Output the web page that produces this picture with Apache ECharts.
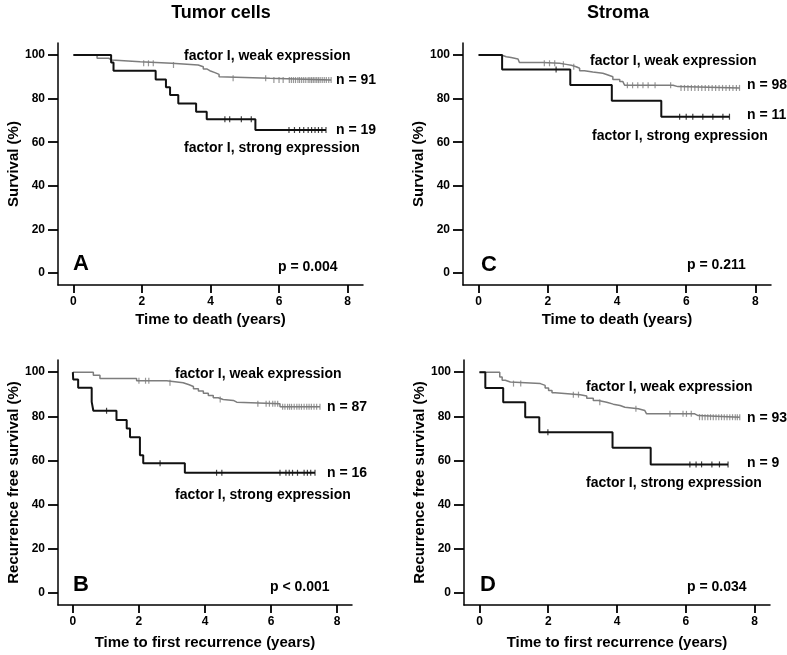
<!DOCTYPE html>
<html>
<head>
<meta charset="utf-8">
<script src="https://cdn.jsdelivr.net/npm/echarts@6/dist/echarts.min.js"></script>
<style>
html,body{margin:0;padding:0;background:#fff;}
#chart{width:787px;height:655px;}
</style>
</head>
<body>
<div id="chart"></div>
<script>
// ---------- DATA ----------
const xTickStep = 2, xTickMax = 8;
const yTickStep = 20, yTickMax = 100;

// Panel A: Tumor cells, time to death
const A_weak_t = [0, 0.69, 1.03, 1.12, 1.95, 2.87, 3.64, 3.79, 3.89, 3.98, 4.13, 4.25, 4.29, 5.73, 7.52];
const A_weak_s = [100, 98.5, 97.7, 96.9, 96.2, 95.4, 94.6, 93.6, 92.8, 91.9, 91.1, 90.0, 89.3, 88.5, 88.5];
const A_weak_c = [2.05, 2.19, 2.33, 2.92, 4.66, 5.61, 5.85, 6.0, 6.12, 6.3, 6.36, 6.42, 6.48, 6.55, 6.6, 6.66, 6.72, 6.78, 6.85, 6.9, 6.95, 7.0, 7.05, 7.1, 7.15, 7.2, 7.26, 7.32, 7.38, 7.45, 7.52];
const A_strong_t = [0, 1.10, 1.17, 2.40, 2.70, 2.82, 3.06, 3.58, 3.89, 5.31, 7.37];
const A_strong_s = [100, 96.6, 92.8, 88.8, 85.2, 81.7, 77.8, 74.0, 70.5, 65.6, 65.6];
const A_strong_c = [4.42, 4.56, 4.90, 5.19, 6.29, 6.45, 6.6, 6.72, 6.85, 6.95, 7.05, 7.15, 7.25, 7.37];

// Panel B: Tumor cells, time to first recurrence
const B_weak_t = [0, 0.62, 0.82, 1.93, 2.84, 3.34, 3.50, 3.65, 3.80, 3.95, 4.10, 4.25, 4.40, 4.55, 4.86, 4.96, 6.27, 7.48];
const B_weak_s = [100, 98.6, 97.1, 96.1, 95.2, 94.4, 93.5, 92.5, 91.4, 90.4, 89.4, 88.4, 87.6, 87.2, 86.4, 85.7, 84.3, 84.3];
const B_weak_c = [2.0, 2.2, 2.3, 2.94, 4.46, 5.6, 5.85, 5.95, 6.05, 6.12, 6.2, 6.35, 6.42, 6.5, 6.56, 6.62, 6.7, 6.78, 6.85, 6.92, 7.0, 7.08, 7.15, 7.22, 7.3, 7.38, 7.48];
const B_strong_t = [0, 0.01, 0.16, 0.57, 0.62, 1.32, 1.63, 1.73, 2.03, 2.13, 3.39, 7.33];
const B_strong_s = [100, 96.7, 92.9, 86.5, 82.5, 78.3, 74.5, 70.5, 62.4, 58.7, 54.4, 54.4];
const B_strong_c = [1.02, 2.64, 4.35, 4.51, 6.27, 6.45, 6.55, 6.65, 6.8, 7.0, 7.1, 7.2, 7.33];

// Panel C: Stroma, time to death
const C_weak_t = [0, 0.66, 0.80, 0.94, 1.14, 1.18, 1.86, 2.34, 2.53, 2.68, 2.82, 2.92, 3.06, 3.30, 3.59, 3.74, 3.88, 4.08, 4.17, 4.22, 5.62, 5.76, 7.54];
const C_weak_s = [100, 99.2, 98.8, 98.2, 97.4, 96.6, 96.2, 95.7, 95.3, 94.6, 93.9, 92.8, 92.2, 91.6, 90.8, 90.0, 88.8, 87.8, 87.0, 86.1, 85.5, 84.9, 84.9];
const C_weak_c = [1.9, 2.05, 2.2, 2.45, 2.75, 4.3, 4.45, 4.6, 4.75, 4.9, 5.1, 5.55, 5.85, 5.95, 6.05, 6.15, 6.25, 6.35, 6.45, 6.55, 6.65, 6.75, 6.85, 6.95, 7.05, 7.15, 7.25, 7.35, 7.45, 7.54];
const C_strong_t = [0, 0.68, 2.65, 3.85, 5.28, 7.25];
const C_strong_s = [100, 93.4, 86.2, 79.0, 71.7, 71.7];
const C_strong_c = [2.24, 5.81, 6.0, 6.19, 6.48, 6.77, 7.06, 7.25];

// Panel D: Stroma, time to first recurrence
const D_weak_t = [0, 0.59, 0.66, 0.75, 0.90, 1.77, 1.91, 2.01, 2.11, 2.20, 2.93, 3.12, 3.31, 3.46, 3.70, 3.89, 4.09, 4.23, 4.62, 4.81, 4.86, 6.26, 6.36, 7.57];
const D_weak_s = [100, 97.8, 96.3, 95.5, 94.8, 94.0, 92.8, 91.7, 90.7, 89.8, 89.2, 88.2, 87.2, 86.4, 85.5, 84.9, 84.1, 83.4, 82.6, 81.9, 81.1, 80.3, 79.6, 79.6];
const D_weak_c = [0.99, 1.2, 2.73, 2.88, 3.5, 4.55, 5.54, 5.92, 6.02, 6.16, 6.4, 6.48, 6.56, 6.64, 6.72, 6.8, 6.88, 6.96, 7.04, 7.12, 7.2, 7.28, 7.36, 7.44, 7.5, 7.57];
const D_strong_t = [0, 0.17, 0.69, 1.33, 1.74, 3.87, 4.98, 7.23];
const D_strong_s = [100, 92.8, 86.4, 79.6, 72.8, 65.8, 58.2, 58.2];
const D_strong_c = [1.99, 6.12, 6.30, 6.46, 6.76, 6.98, 7.23];

// ---------- BUILD ----------
const GRAY = '#7d7d7d', BLACK = '#111111';
const FONT = '"Liberation Sans", Arial, sans-serif';
const XMIN = -0.45, XMAX = 8.45, YMIN = -5.5, YMAX = 105.5;

function pairs(ts, ss) { return ts.map((t, i) => [t, ss[i]]); }
function survAt(ts, ss, t) { let v = ss[0]; for (let i = 0; i < ts.length; i++) { if (ts[i] <= t + 1e-9) v = ss[i]; } return v; }

// outer frames (axis lines + names + data): A, B, C, D
const outer = [
  { left: 58, top: 43, width: 305, height: 242 },
  { left: 58, top: 360, width: 294, height: 245 },
  { left: 463, top: 43, width: 308, height: 242 },
  { left: 464, top: 360, width: 306, height: 245 }
];

const xNames = ['Time to death (years)', 'Time to first recurrence (years)', 'Time to death (years)', 'Time to first recurrence (years)'];
const yNames = ['Survival (%)', 'Recurrence free survival (%)', 'Survival (%)', 'Recurrence free survival (%)'];
const xNameGaps = [27, 30, 27, 30];

const gridsOpt = [], xAxes = [], yAxes = [];
const hiddenAxis = (gi) => ({ gridIndex: gi, type: 'value', show: false, min: 0, max: 1 });
const tickLabel = { color: '#000', fontSize: 12, fontWeight: 'bold', fontFamily: FONT };

outer.forEach((g, i) => {
  gridsOpt.push({ left: g.left, top: g.top, width: g.width, height: g.height });
  xAxes.push({ gridIndex: i, type: 'value', min: XMIN, max: XMAX,
    axisLine: { show: true, onZero: false, lineStyle: { color: '#000', width: 1.5 } },
    axisTick: { show: false }, axisLabel: { show: false }, splitLine: { show: false },
    name: xNames[i], nameLocation: 'middle', nameGap: xNameGaps[i],
    nameTextStyle: { color: '#000', fontSize: 15, fontWeight: 'bold', fontFamily: FONT } });
  yAxes.push({ gridIndex: i, type: 'value', min: YMIN, max: YMAX,
    axisLine: { show: true, onZero: false, lineStyle: { color: '#000', width: 1.5 } },
    axisTick: { show: false }, axisLabel: { show: false }, splitLine: { show: false },
    name: yNames[i], nameLocation: 'middle', nameGap: 37, nameRotate: 90,
    nameTextStyle: { color: '#000', fontSize: 15, fontWeight: 'bold', fontFamily: FONT } });
});
// tick grids: x ticks live on a frame spanning 0..8 horizontally with the outer bottom edge;
// y ticks on a frame spanning 0..100 vertically with the outer left edge
outer.forEach((g) => {
  const xs = g.width / (XMAX - XMIN), ys = g.height / (YMAX - YMIN);
  // x-tick grid
  let gi = gridsOpt.length;
  gridsOpt.push({ left: g.left + (0 - XMIN) * xs, width: xTickMax * xs, top: g.top, height: g.height });
  xAxes.push({ gridIndex: gi, type: 'value', min: 0, max: xTickMax, interval: xTickStep,
    axisLine: { show: false }, splitLine: { show: false },
    axisTick: { show: true, length: 8, lineStyle: { color: '#000', width: 1.8 } },
    axisLabel: Object.assign({ margin: 11 }, tickLabel) });
  yAxes.push(hiddenAxis(gi));
  // y-tick grid
  gi = gridsOpt.length;
  gridsOpt.push({ left: g.left, width: g.width, top: g.top + (YMAX - yTickMax) * ys, height: yTickMax * ys });
  yAxes.push({ gridIndex: gi, type: 'value', min: 0, max: yTickMax, interval: yTickStep,
    axisLine: { show: false }, splitLine: { show: false },
    axisTick: { show: true, length: 10, lineStyle: { color: '#000', width: 1.8 } },
    axisLabel: Object.assign({ margin: 13 }, tickLabel) });
  xAxes.push(hiddenAxis(gi));
});

const panels = [
  [A_weak_t, A_weak_s, A_weak_c, A_strong_t, A_strong_s, A_strong_c],
  [B_weak_t, B_weak_s, B_weak_c, B_strong_t, B_strong_s, B_strong_c],
  [C_weak_t, C_weak_s, C_weak_c, C_strong_t, C_strong_s, C_strong_c],
  [D_weak_t, D_weak_s, D_weak_c, D_strong_t, D_strong_s, D_strong_c]
];

const series = [];
panels.forEach((p, i) => {
  const [wt, ws, wc, st, ss, sc] = p;
  series.push({ type: 'line', xAxisIndex: i, yAxisIndex: i, step: 'end', data: pairs(wt, ws), showSymbol: false, symbol: 'none',
    lineStyle: { color: GRAY, width: 1.5 }, z: 2, silent: true, animation: false });
  series.push({ type: 'line', xAxisIndex: i, yAxisIndex: i, step: 'end', data: pairs(st, ss), showSymbol: false, symbol: 'none',
    lineStyle: { color: BLACK, width: 2 }, z: 3, silent: true, animation: false });
  series.push({ type: 'scatter', xAxisIndex: i, yAxisIndex: i, data: wc.map(t => [t, survAt(wt, ws, t)]),
    symbol: 'rect', symbolSize: [1.2, 6], itemStyle: { color: GRAY }, z: 4, silent: true, animation: false });
  series.push({ type: 'scatter', xAxisIndex: i, yAxisIndex: i, data: sc.map(t => [t, survAt(st, ss, t)]),
    symbol: 'rect', symbolSize: [1.2, 6], itemStyle: { color: BLACK }, z: 5, silent: true, animation: false });
});

function txt(x, y, text, size, align) {
  return { type: 'text', x: x, y: y, silent: true,
    style: { text: text, fill: '#000', font: 'bold ' + size + 'px ' + FONT, align: align || 'left', verticalAlign: 'middle' } };
}
const graphics = [
  txt(221, 13, 'Tumor cells', 18, 'center'),
  txt(618, 13, 'Stroma', 18, 'center'),
  // A
  txt(184, 56, 'factor I, weak expression', 14),
  txt(336, 80, 'n = 91', 14),
  txt(336, 130, 'n = 19', 14),
  txt(184, 148, 'factor I, strong expression', 14),
  txt(73, 264, 'A', 22),
  txt(278, 267, 'p = 0.004', 14),
  // C
  txt(590, 61, 'factor I, weak expression', 14),
  txt(747, 85, 'n = 98', 14),
  txt(747, 115, 'n = 11', 14),
  txt(592, 136, 'factor I, strong expression', 14),
  txt(481, 265, 'C', 22),
  txt(687, 265, 'p = 0.211', 14),
  // B
  txt(175, 374, 'factor I, weak expression', 14),
  txt(327, 407, 'n = 87', 14),
  txt(327, 473, 'n = 16', 14),
  txt(175, 495, 'factor I, strong expression', 14),
  txt(73, 585, 'B', 22),
  txt(270, 587, 'p < 0.001', 14),
  // D
  txt(586, 387, 'factor I, weak expression', 14),
  txt(747, 418, 'n = 93', 14),
  txt(747, 463, 'n = 9', 14),
  txt(586, 483, 'factor I, strong expression', 14),
  txt(480, 585, 'D', 22),
  txt(687, 587, 'p = 0.034', 14)
];

const chart = echarts.init(document.getElementById('chart'), null, { renderer: 'canvas' });
chart.setOption({
  backgroundColor: '#fff',
  animation: false,
  grid: gridsOpt,
  xAxis: xAxes,
  yAxis: yAxes,
  series: series,
  graphic: graphics
});
</script>
</body>
</html>
